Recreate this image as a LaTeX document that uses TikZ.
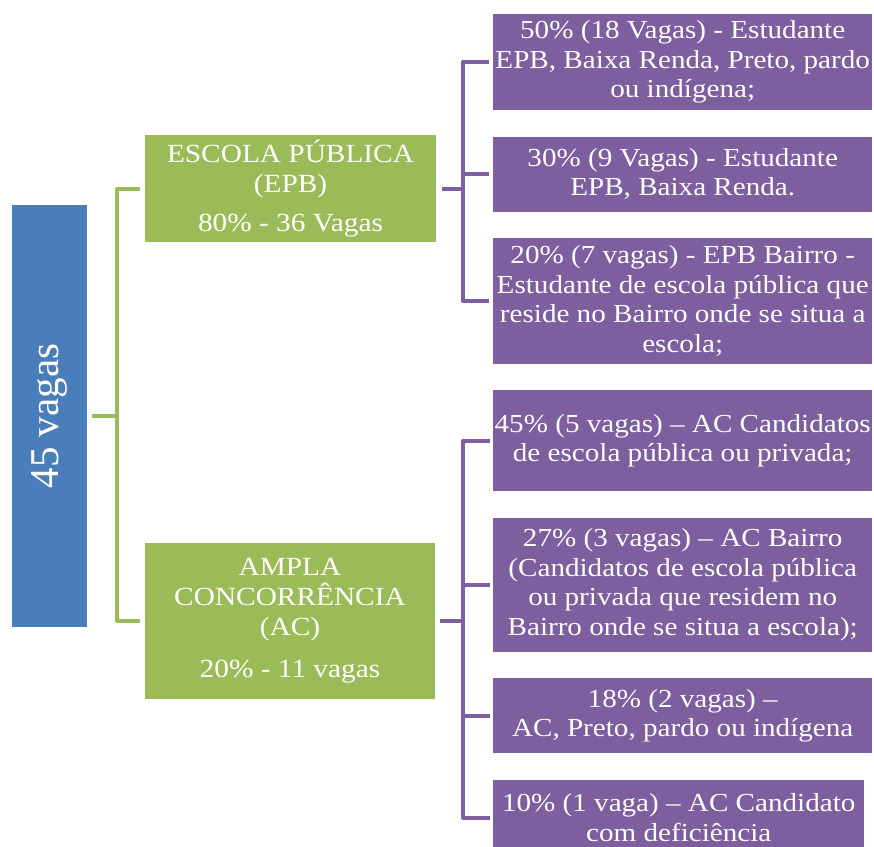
\documentclass[tikz,border=0pt]{standalone}
\usepackage{fontspec}
\usepackage{graphicx}
\setmainfont[FakeStretch=1.12]{Liberation Serif}
\newfontfamily\vagasfont{Liberation Serif}
\definecolor{SAblue}{HTML}{4A7EBB}
\definecolor{SAgreen}{HTML}{9BBB59}
\definecolor{SApurple}{HTML}{7D5E9E}
\usetikzlibrary{positioning}

\begin{document}
\begin{tikzpicture}[x=1pt,y=-1pt,
    gbox/.style={fill=SAgreen,text=white,align=center,inner sep=3pt,minimum width=291pt,font=\fontsize{26.2}{30}\selectfont},
    pbox/.style={fill=SApurple,text=white,align=center,minimum width=379pt,inner xsep=0pt,inner ysep=2pt,font=\fontsize{26}{29.5}\selectfont},
    gline/.style={draw=SAgreen,line width=4pt,line join=round},
    pline/.style={draw=SApurple,line width=4pt,line join=round}]
  \useasboundingbox (0,0) rectangle (874,846);
  \clip (0,0) rectangle (874,846);

  % left column
  \node[fill=SAblue,text=white,minimum width=75pt,minimum height=422pt,inner sep=0pt] (vagas) at (49.5,416)
    {\rotatebox{90}{\vagasfont\fontsize{41}{45}\selectfont 45 vagas}};
  \node[gbox,minimum height=107pt] (epb) at (290.5,188.5) {ESCOLA PÚBLICA\\(EPB)\\[9pt]80\% - 36 Vagas};
  \node[gbox,minimum width=290pt,minimum height=156pt] (ac) at (290,621) {AMPLA\\CONCORRÊNCIA\\(AC)\\[12pt]20\% - 11 vagas};

  % escola publica
  \node[pbox,minimum height=96pt,anchor=north west] (e1) at (493,14) {50\% (18 Vagas) - Estudante\\EPB, Baixa Renda, Preto, pardo\\ou indígena;};
  \node[pbox,minimum height=75pt,below=26pt of e1.south west,anchor=north west] (e2) {30\% (9 Vagas) - Estudante\\EPB,  Baixa Renda.};
  \node[pbox,minimum height=126pt,below=26pt of e2.south west,anchor=north west] (e3) {20\% (7 vagas) - EPB Bairro -\\Estudante de escola pública que\\reside no Bairro onde se situa a\\escola;};

  % ampla concorrencia
  \node[pbox,minimum height=101pt,below=26pt of e3.south west,anchor=north west] (a1) {45\% (5 vagas) – AC Candidatos\\de escola pública ou privada;};
  \node[pbox,minimum height=134pt,below=26pt of a1.south west,anchor=north west] (a2) {27\% (3 vagas) – AC Bairro\\(Candidatos de escola pública\\ou privada que residem no\\Bairro onde se situa a escola);};
  \node[pbox,minimum height=75pt,below=26pt of a2.south west,anchor=north west] (a3) {18\% (2 vagas) –\\AC, Preto, pardo ou indígena};
  \node[pbox,minimum width=371pt,minimum height=76pt,below=26pt of a3.south west,anchor=north west] (a4) {10\% (1 vaga) – AC Candidato\\com deficiência};

  % connectors
  \coordinate[right=30pt of vagas.east] (gfork);
  \coordinate[right=27pt of epb.east] (efork);
  \coordinate[right=28pt of ac.east] (afork);
  \draw[gline,shorten <=5pt] (vagas.east) -- (gfork);
  \draw[gline,shorten <=5pt,shorten >=5pt] (epb.west) -| (gfork) |- (ac.west);
  \draw[pline,shorten <=6pt] (epb.east) -- (efork);
  \draw[pline,shorten <=4pt,shorten >=4pt] (e1.west) -| (efork) |- (e3.west);
  \draw[pline,shorten >=4pt] (efork |- e2.west) -- (e2.west);
  \draw[pline,shorten <=5pt] (ac.east) -- (afork);
  \draw[pline,shorten <=3pt,shorten >=3pt] (a1.west) -| (afork) |- (a4.west);
  \draw[pline,shorten >=3pt] (afork |- a2.west) -- (a2.west);
  \draw[pline,shorten >=3pt] (afork |- a3.west) -- (a3.west);
\end{tikzpicture}
\end{document}
